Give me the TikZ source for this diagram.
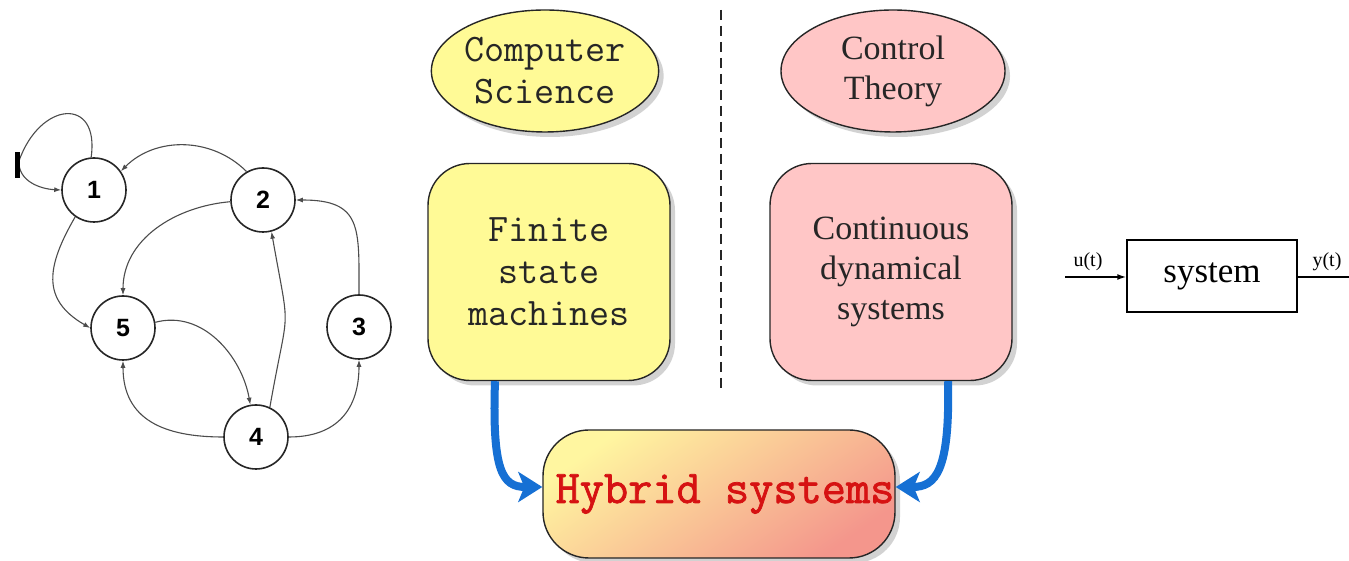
\documentclass[tikz,border=0pt]{standalone}
\usepackage{fontspec}
\setmainfont{Liberation Serif}
\setmonofont{Latin Modern Mono}
\newfontfamily\hybf{Latin Modern Mono}[FakeBold=1.6]
\newfontfamily\sansf{Liberation Sans}
\usetikzlibrary{arrows.meta,shapes.geometric,shadows}
\definecolor{cyel}{RGB}{255,250,150}
\definecolor{cpink}{RGB}{255,198,198}
\definecolor{hybtop}{RGB}{255,246,160}
\definecolor{hybbot}{RGB}{244,150,140}
\definecolor{cblue}{RGB}{22,112,212}
\definecolor{cred}{RGB}{214,18,18}
\begin{document}
\begin{tikzpicture}[x=1pt,y=1pt,
  state/.style={circle,draw=black!85,line width=1.6pt,minimum size=64pt,inner sep=0pt,fill=white,
    font=\sansf\bfseries\fontsize{25}{25}\selectfont},
  edge/.style={draw=black!70,line width=1.1pt,-{Latex[length=7pt,width=5pt]}},
  shad/.style={drop shadow={shadow xshift=5pt,shadow yshift=-5pt,fill=black!35,opacity=0.5}},
  topic/.style={ellipse,draw=black!85,line width=1.4pt,minimum width=224pt,minimum height=122pt,
    inner sep=0pt,align=center,shad},
  areabox/.style={rectangle,rounded corners=42pt,draw=black!85,line width=1.4pt,minimum width=242pt,
    minimum height=217pt,inner sep=0pt,align=center,shad},
  monotext/.style={font=\ttfamily\fontsize{39}{42}\selectfont,text=black!85},
  seriftext/.style={font=\fontsize{34}{40}\selectfont,text=black!85},
  bluearrow/.style={draw=cblue,line width=8pt,-{Stealth[length=24pt,width=30pt,inset=6pt]}},
  sigline/.style={draw=black,line width=1.5pt},
  siglabel/.style={font=\fontsize{20}{20}\selectfont,inner sep=0pt}
]
\useasboundingbox[fill=white] (0,0) rectangle (1349,561);

% ---- state graph ----
\node[state] (n1) at (94,371) {1};
\node[state] (n2) at (263,361) {2};
\node[state] (n3) at (359,234) {3};
\node[state] (n5) at (123,233) {5};
\node[state] (n4) at (256,124) {4};

\coordinate (lp) at (19,400);
\draw[draw=black!70,line width=1.1pt] (n1.95) .. controls (100,465) and (40,460) .. (lp);
\draw[edge] (lp) .. controls (18,380) and (40,372) .. (n1.west);
\draw[line width=5pt] (17,383) -- (17,409);

\draw[edge] (n2.120) to[out=135,in=45] (n1.35);
\draw[edge] (n2.183) to[out=185,in=90] (n5.north);
\draw[edge] (n1.235) to[out=240,in=150,looseness=1.3] (n5.west);
\draw[edge] (n5.10) to[out=15,in=100] (n4.100);
\draw[edge] (n4.65) to[out=80,in=-80,looseness=1.6] (n2.-75);
\draw[edge] (n3.north) to[out=90,in=0,looseness=1.5] (n2.east);
\draw[edge] (n4.west) to[out=180,in=-90,looseness=1.2] (n5.south);
\draw[edge] (n4.east) to[out=0,in=-90,looseness=1.2] (n3.south);

% ---- dashed separator ----
\coordinate (dtop) at (721,551);
\coordinate (dbot) at (721,168);
\draw[black!85,line width=2pt,dash pattern=on 10pt off 6pt] (dtop) -- (dbot);

% ---- topics ----
\node[topic,fill=cyel,monotext] (cs) at (545,490) {Computer\\Science};
\node[topic,fill=cpink,seriftext] (ct) at (893,490) {Control\\Theory};

\node[areabox,fill=cyel,monotext] (fsm) at (549,289) {Finite\\state\\machines};
\node[areabox,fill=cpink,seriftext] (cds) at (891,289) {Continuous\\dynamical\\systems};

\node[rectangle,rounded corners=46pt,draw=black!85,line width=1.4pt,minimum width=352pt,minimum height=128pt,
  inner sep=0pt,shad,top color=hybtop,bottom color=hybbot,shading angle=35,
  font=\hybf\fontsize{47}{47}\selectfont,text=cred] (hyb) at (719,67) {\hspace{12pt}Hybrid systems};

\draw[bluearrow] ([xshift=-54pt]fsm.south) .. controls +(-3,-90) and +(-40,0) .. ([yshift=7pt]hyb.west);
\draw[bluearrow] ([xshift=57pt]cds.south) .. controls +(2,-90) and +(40,0) .. ([yshift=7pt]hyb.east);

% ---- system block ----
\node[rectangle,draw=black,line width=1.5pt,minimum width=170pt,minimum height=72pt,
  font=\fontsize{35}{35}\selectfont] (sys) at (1212,285) {system};
\coordinate (uin) at (1065,284);
\coordinate (yout) at (1349,284);
\draw[sigline,-{Latex[length=9pt,width=6pt]}] (uin) -- (sys.west |- uin);
\draw[sigline] (sys.east |- yout) -- (yout);
\node[siglabel] (ulab) at (1088,299) {u(t)};
\node[siglabel] (ylab) at (1327,299) {y(t)};
\end{tikzpicture}
\end{document}
